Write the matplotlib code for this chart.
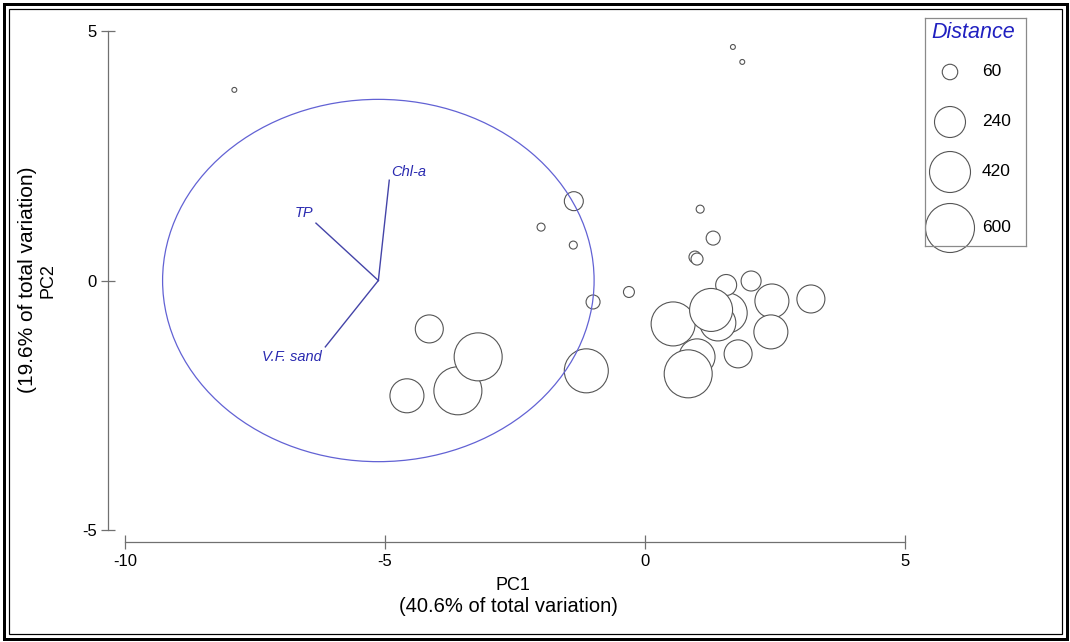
import matplotlib
matplotlib.use("Agg")
import matplotlib.pyplot as plt
from matplotlib.patches import Ellipse, Rectangle

plt.rcParams['font.family'] = ['Liberation Sans', 'DejaVu Sans']

# sample scores on the first two PCs, bubble = distance
pc1 = [-7.90, 1.69, 1.87, -1.37, -2.00, -1.38, 1.06, 1.31, 0.96, 1.00,
       -0.31, -1.00, -4.15, -4.58, -3.60, -3.21, -1.13, 1.58, 1.40, 1.56,
       2.04, 0.54, 1.27, 2.44, 3.19, 2.42, 1.79, 1.00, 0.83]
pc2 = [3.82, 4.68, 4.38, 1.59, 1.07, 0.71, 1.43, 0.85, 0.47, 0.43,
       -0.23, -0.43, -0.97, -2.31, -2.21, -1.53, -1.81, -0.65, -0.85, -0.09,
       -0.01, -0.87, -0.59, -0.41, -0.37, -1.03, -1.47, -1.53, -1.87]
distance = [6, 6, 6, 90, 16, 16, 16, 49, 36, 36,
            30, 49, 196, 289, 576, 576, 484, 400, 324, 110,
            100, 484, 462, 289, 196, 289, 196, 324, 576]

# vector overlay
vector_names = ["Chl-a", "TP", "V.F. sand"]
vector_x = [-4.92, -6.33, -6.15]
vector_y = [2.01, 1.15, -1.33]
origin = (-5.13, 0.0)
circle_w, circle_h = 8.30, 7.26

legend_values = [60, 240, 420, 600]
x_ticks = [-10, -5, 0, 5]
y_ticks = [-5, 0, 5]

W, H, DPI = 1070, 642, 100
PT = 72.0 / DPI  # points per pixel


def px_box(left, top, right, bottom):
    """Figure-fraction box from pixel edges."""
    return [left / W, 1 - bottom / H, (right - left) / W, (bottom - top) / H]


def bubble_size(d):
    # radius in pixels is sqrt(d)
    return (2 * (d ** 0.5) * PT) ** 2


fig = plt.figure(figsize=(W / DPI, H / DPI), dpi=DPI)
fig.patch.set_facecolor("white")

ax = fig.add_axes(px_box(108, 31, 905, 542))
ax.set_xlim(-10.33, 5.0)
ax.set_ylim(-5.24, 5.0)

ax.scatter(pc1, pc2, s=[bubble_size(d) for d in distance], facecolors="white",
           edgecolors="#555555", linewidths=0.8, zorder=2, clip_on=False)

ell = Ellipse(origin, circle_w, circle_h, fill=False, edgecolor="#6262d4",
              linewidth=0.9, zorder=3)
ax.add_patch(ell)

blue_txt = "#2a2ab0"
offsets = [((2, 4), "left", "baseline"), ((-3, 6), "right", "baseline"),
           ((-4, -3), "right", "top")]
for name, vx, vy, (off, ha, va) in zip(vector_names, vector_x, vector_y, offsets):
    ax.plot([origin[0], vx], [origin[1], vy], color="#4444a8", lw=1.0, zorder=4)
    ax.annotate(name, (vx, vy), xytext=(off[0] * PT, off[1] * PT),
                textcoords="offset points", ha=ha, va=va, fontsize=10.5,
                style="italic", color=blue_txt, zorder=5)

for side in ["top", "right"]:
    ax.spines[side].set_visible(False)
ax.spines["left"].set_bounds(-5, 5)
ax.spines["bottom"].set_bounds(-10, 5)
for side in ["left", "bottom"]:
    ax.spines[side].set_color("#707070")
    ax.spines[side].set_linewidth(0.9)
ax.set_xticks(x_ticks)
ax.set_yticks(y_ticks)
ax.set_xticklabels([str(t) for t in x_ticks])
ax.set_yticklabels([str(t) for t in y_ticks])
ax.tick_params(direction="inout", length=10, width=0.9, color="#707070",
               labelsize=12, labelcolor="black")
ax.tick_params(axis="x", pad=4)
ax.tick_params(axis="y", pad=3)

fig.text(513 / W, 1 - 586 / H, "PC1", ha="center", va="center", fontsize=13)
fig.text(508 / W, 1 - 607 / H, "(40.6% of total variation)", ha="center",
         va="center", fontsize=14.5)
fig.text(48 / W, 1 - 281 / H, "PC2", ha="center", va="center", fontsize=13,
         rotation=90)
fig.text(28 / W, 1 - 280 / H, "(19.6% of total variation)", ha="center",
         va="center", fontsize=15, rotation=90)

# legend box
lg = fig.add_axes(px_box(925, 18, 1026, 246))
lg.set_xlim(0, 101)
lg.set_ylim(228, 0)
lg.set_xticks([])
lg.set_yticks([])
for sp in lg.spines.values():
    sp.set_color("#8a8a8a")
    sp.set_linewidth(0.9)
lg.text(48, 15, "Distance", ha="center", va="center", fontsize=15.5,
        style="italic", color="#2020c0")
row_y = [54, 104, 154, 210]
lg.scatter([25] * len(legend_values), row_y,
           s=[bubble_size(v) for v in legend_values], facecolors="white",
           edgecolors="#555555", linewidths=0.8, clip_on=False)
for v, y in zip(legend_values, row_y):
    lg.text(57, y, str(v), ha="left", va="center", fontsize=12.5)

# double frame round the picture
outer = Rectangle((3.5 / W, 3.5 / H), 1 - 7 / W, 1 - 7 / H, fill=False,
                  edgecolor="black", linewidth=3 * PT, transform=fig.transFigure)
inner = Rectangle((8.5 / W, 8.5 / H), 1 - 17 / W, 1 - 17 / H, fill=False,
                  edgecolor="black", linewidth=1.2 * PT, transform=fig.transFigure)
fig.patches.extend([outer, inner])

fig.savefig("out.png", dpi=DPI)
